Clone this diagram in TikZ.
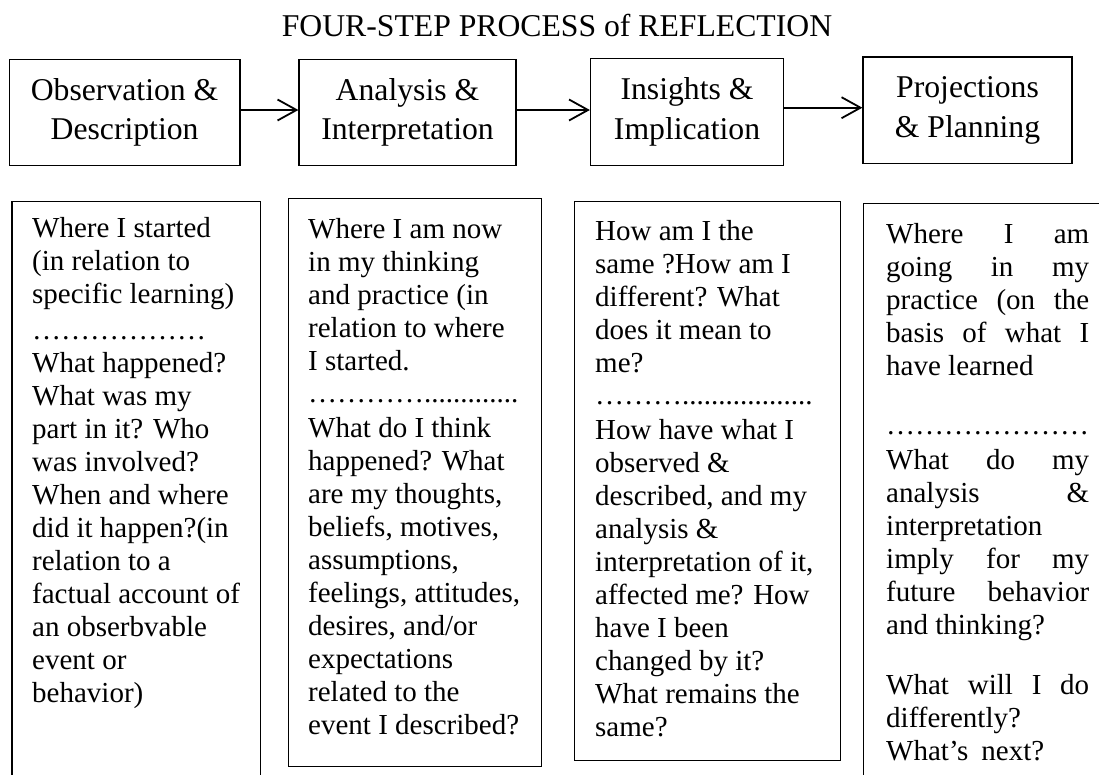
\documentclass[tikz,border=0pt]{standalone}
\usepackage{fontspec}
\setmainfont{Liberation Serif}
\usetikzlibrary{arrows.meta}
\newcommand{\jl}[1]{\makebox[203pt][s]{#1}}
\begin{document}
\begin{tikzpicture}[x=1pt,y=-1pt,
  topbox/.style={draw, line width=1.2pt, align=center, inner sep=0pt,
    font=\fontsize{31.7}{39.5}\selectfont},
  bbox/.style={draw, line width=1.2pt, inner sep=0pt, anchor=north west},
  txt/.style={inner sep=0pt, anchor=base west, font=\fontsize{29}{33}\selectfont},
  arr/.style={line width=1.8pt, -{Straight Barb[length=19pt,width=21pt,line width=1.8pt]}},
  titlestyle/.style={inner sep=0pt, anchor=base, font=\fontsize{31.7}{38}\selectfont}]
\useasboundingbox (0,0) rectangle (1099,774);
\clip (0,0) rectangle (1099,774);
\fill[white] (0,0) rectangle (1099,774);

\node[titlestyle] (title) at (557,36) {FOUR-STEP PROCESS of REFLECTION};

\node[topbox, minimum width=230.8pt, minimum height=106.4pt] (b1) at (124.6,112.5) {Observation \&\\Description};
\node[topbox, minimum width=217pt, minimum height=106.4pt] (b2) at (407.5,112.5) {Analysis \&\\Interpretation};
\node[topbox, minimum width=193pt, minimum height=106.4pt] (b3) at (687,112) {Insights \&\\Implication};
\node[topbox, minimum width=209pt, minimum height=106.4pt] (b4) at (967.5,110.2) {Projections\\\& Planning};

\draw[arr] ([yshift=2.5pt]b1.east) -- ([yshift=2.5pt]b2.west);
\draw[arr] ([yshift=2.5pt]b2.east) -- ([yshift=2pt]b3.west);
\draw[arr] ([yshift=4.3pt]b3.east) -- ([yshift=2.5pt]b4.west);

\node[bbox, minimum width=248.3pt, minimum height=620pt] (d1) at (11.4,200.8) {};
\node[bbox, minimum width=253pt, minimum height=568pt] (d2) at (288,198) {};
\node[bbox, minimum width=266.3pt, minimum height=559pt] (d3) at (573.7,201) {};
\node[bbox, minimum width=260pt, minimum height=620pt] (d4) at (863,203) {};

\node[txt] (t1) at (32,237.5) {\parbox[t]{260pt}{%
Where I started\\
(in relation to\\
specific learning)\\[2.5pt]
………………\\[0.3pt]
What happened?\\
What was my\\
part in it? Who\\
was involved?\\
When and where\\
did it happen?(in\\
relation to a\\
factual account of\\
an obserbvable\\
event or\\
behavior)}};

\node[txt] (t2) at (308,238) {\parbox[t]{260pt}{%
Where I am now\\
in my thinking\\
and practice (in\\
relation to where\\
I started.\\[-1pt]
………….............\\[2pt]
What do I think\\
happened? What\\
are my thoughts,\\
beliefs, motives,\\
assumptions,\\
feelings, attitudes,\\
desires, and/or\\
expectations\\
related to the\\
event I described?}};

\node[txt] (t3) at (595,240) {\parbox[t]{260pt}{%
How am I the\\
same ?How am I\\
different? What\\
does it mean to\\
me?\\[-1pt]
………..................\\[2pt]
How have what I\\
observed \&\\
described, and my\\
analysis \&\\
interpretation of it,\\
affected me? How\\
have I been\\
changed by it?\\
What remains the\\
same?}};

\node[txt] (t4) at (886,243) {\parbox[t]{260pt}{%
\jl{Where I am}\\
\jl{going in my}\\
\jl{practice (on the}\\
\jl{basis of what I}\\
have learned\\[26pt]
…………………\\[2pt]
\jl{What do my}\\
\jl{analysis \&}\\
interpretation\\
\jl{imply for my}\\
\jl{future behavior}\\
and thinking?\\[27pt]
\jl{What will I do}\\
differently?\\
What’s\hspace{0.45em}next?}};
\end{tikzpicture}
\end{document}
